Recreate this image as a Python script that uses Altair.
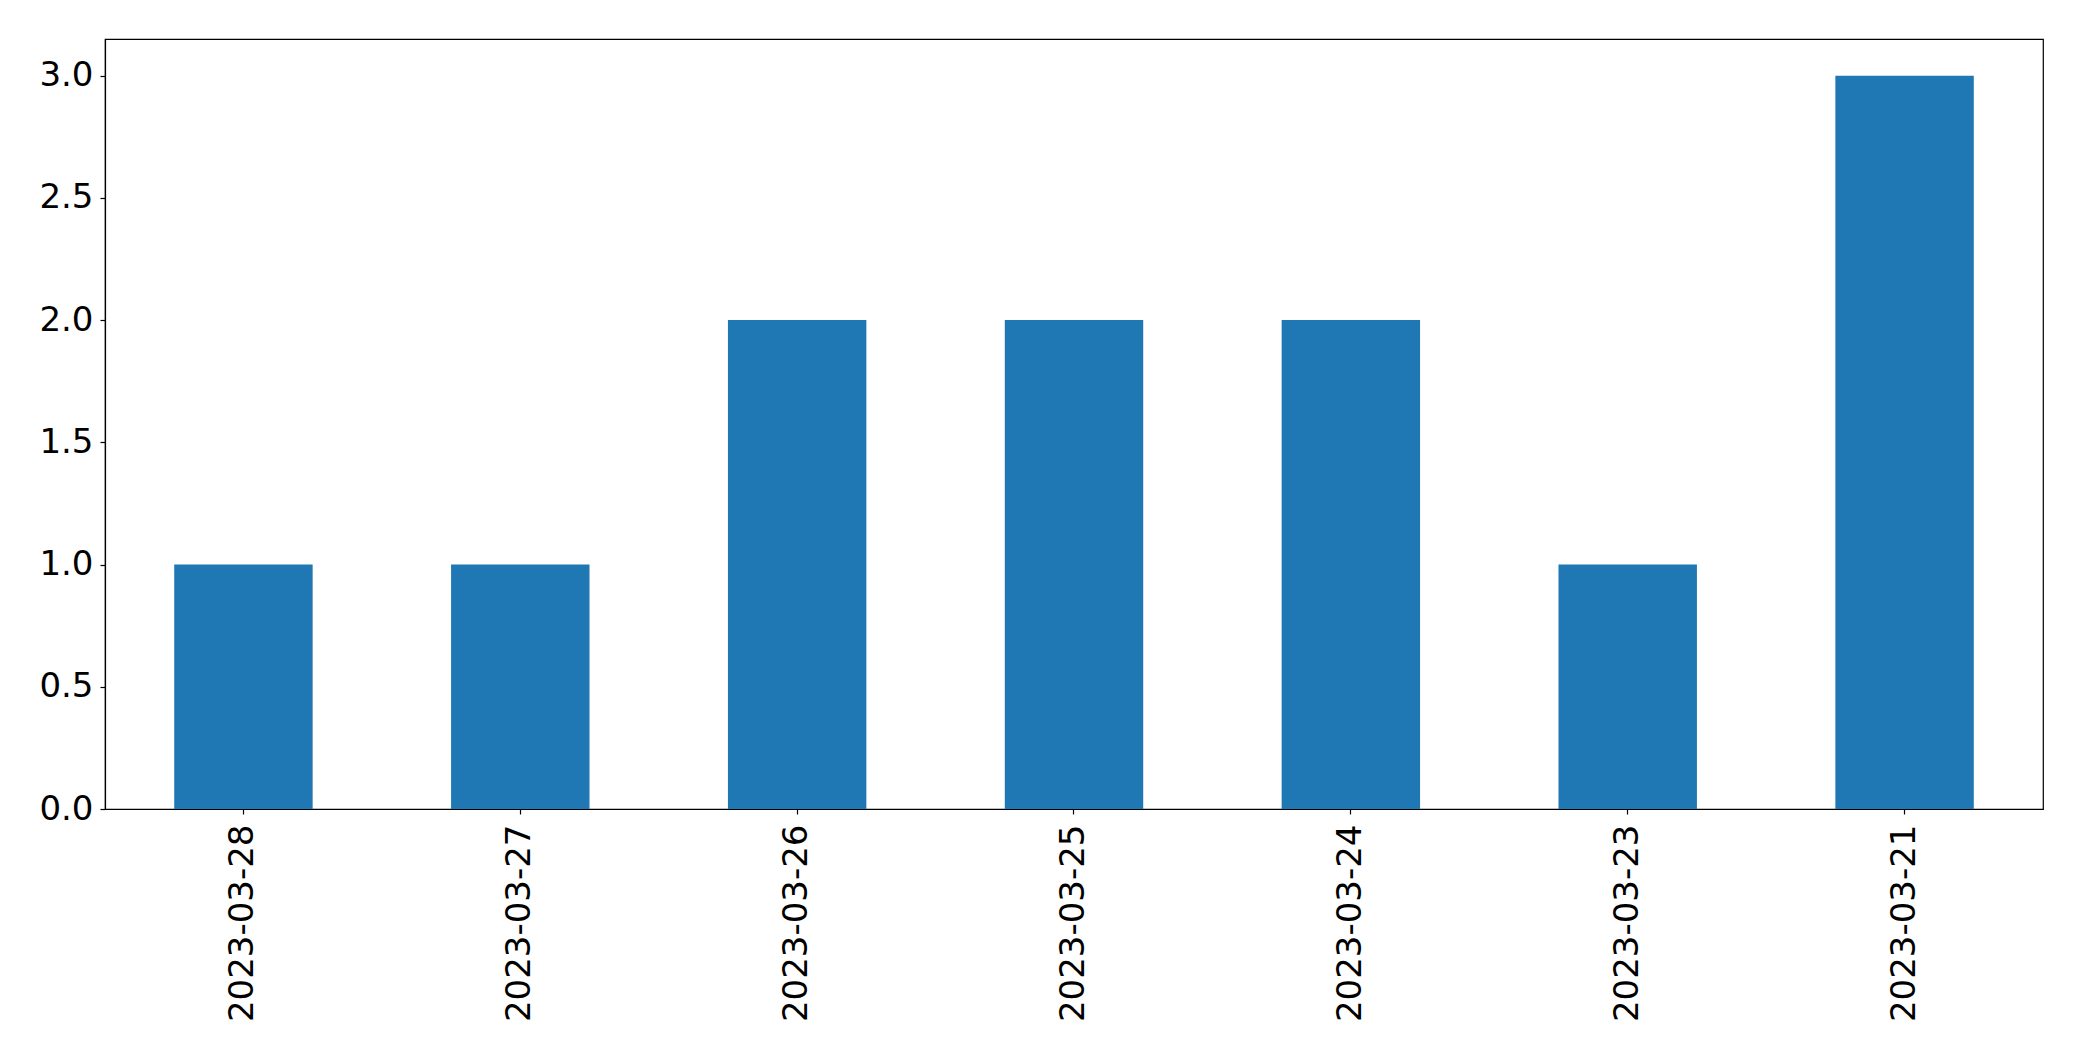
import altair as alt
import pandas as pd

dates = ["2023-03-28", "2023-03-27", "2023-03-26", "2023-03-25",
         "2023-03-24", "2023-03-23", "2023-03-21"]
counts = [1, 1, 2, 2, 2, 1, 3]
y_ticks = [0.0, 0.5, 1.0, 1.5, 2.0, 2.5, 3.0]

df = pd.DataFrame({"date": dates, "count": counts})

chart = alt.Chart(df).mark_bar(color="#1f77b4").encode(
    x=alt.X("date:N", sort=dates, title=None,
            scale=alt.Scale(paddingInner=0.5, paddingOuter=0.25),
            axis=alt.Axis(labelAngle=-90, labelFontSize=34, labelFont="DejaVu Sans",
                          labelColor="black", tickColor="black", tickSize=5,
                          domainColor="black", labelPadding=10, grid=False,
                          labelLimit=0, labelAlign="right", labelBaseline="middle")),
    y=alt.Y("count:Q", title=None,
            scale=alt.Scale(domain=[0, 3.15], nice=False, zero=True),
            axis=alt.Axis(values=y_ticks, format=".1f", labelFontSize=34,
                          labelFont="DejaVu Sans", labelColor="black",
                          tickColor="black", tickSize=5, domainColor="black",
                          labelPadding=7, grid=False)),
).properties(
    width=1938, height=770,
    autosize=alt.AutoSizeParams(type="none"),
    padding={"left": 97, "top": 31, "right": 30, "bottom": 240},
).configure_view(stroke="black", strokeWidth=1.2).configure_axis(
    domainWidth=1.2, tickWidth=1.2
)

chart.save("out.html", embed_options={"renderer": "svg", "actions": False})
